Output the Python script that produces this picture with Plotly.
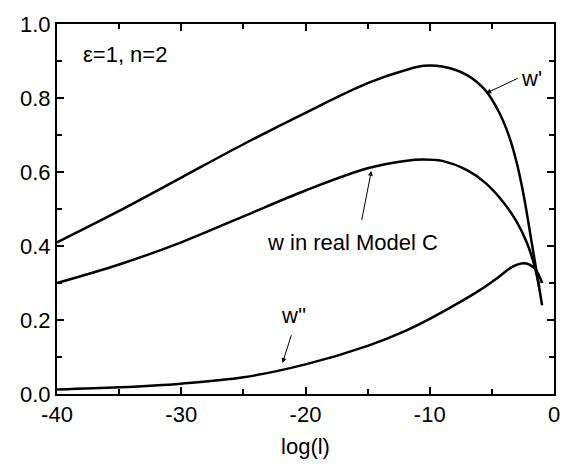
import plotly.graph_objects as go

# w' (upper curve)
wp_x = [-40, -35, -30, -25, -20, -15, -12, -10.5, -9, -7, -5.5, -4.4, -3.6, -3.0, -2.4, -1.8, -1.3, -0.96]
wp_y = [0.41, 0.495, 0.585, 0.675, 0.76, 0.84, 0.875, 0.887, 0.885, 0.862, 0.82, 0.76, 0.695, 0.625, 0.53, 0.41, 0.31, 0.24]

# w in real Model C (middle curve)
w_x = [-40, -35, -30, -25, -20, -15, -12, -10.5, -9, -7, -5.5, -4, -3, -2.2, -1.6, -1.2]
w_y = [0.30, 0.35, 0.41, 0.48, 0.55, 0.61, 0.63, 0.634, 0.63, 0.605, 0.57, 0.515, 0.465, 0.41, 0.35, 0.29]

# w'' (lower curve)
wpp_x = [-40, -35, -30, -25, -20, -15, -12, -10, -8, -6, -4.5, -3.4, -2.6, -2.0, -1.45, -0.96]
wpp_y = [0.012, 0.018, 0.028, 0.045, 0.08, 0.13, 0.17, 0.203, 0.24, 0.28, 0.315, 0.343, 0.353, 0.35, 0.335, 0.30]

x_ticks = [-40, -30, -20, -10, 0]
y_ticks = [0.0, 0.2, 0.4, 0.6, 0.8, 1.0]

FONT = "Arial, Liberation Sans, sans-serif"
line = dict(color="black", width=2.5, shape="spline", smoothing=1.0)

fig = go.Figure()
for xs, ys, name in [(wp_x, wp_y, "w'"), (w_x, w_y, "w"), (wpp_x, wpp_y, "w''")]:
    fig.add_trace(go.Scatter(x=xs, y=ys, mode="lines", line=line, name=name, showlegend=False))

axis_common = dict(
    showline=True, linecolor="black", linewidth=2, mirror="ticks",
    ticks="inside", ticklen=7, tickwidth=2, tickcolor="black",
    showgrid=False, zeroline=False,
    tickfont=dict(family=FONT, size=22, color="black"),
)

fig.update_xaxes(range=[-40, 0], tickvals=x_ticks, ticktext=[str(v) for v in x_ticks],
                 minor=dict(dtick=5, ticks="inside", ticklen=5, tickwidth=2, tickcolor="black", tick0=0),
                 title=dict(text="log(l)", font=dict(family=FONT, size=22, color="black"), standoff=12),
                 **axis_common)
fig.update_yaxes(range=[0, 1], tickvals=y_ticks, ticktext=[f"{v:.1f}" for v in y_ticks],
                 minor=dict(dtick=0.1, ticks="inside", ticklen=5, tickwidth=2, tickcolor="black", tick0=0),
                 **axis_common)

ann_font = dict(family=FONT, size=22, color="black")
fig.add_annotation(x=-34.5, y=0.918, text="ε=1, n=2", showarrow=False, font=ann_font, xanchor="center")
fig.add_annotation(x=-1.85, y=0.853, text="w'", showarrow=False, font=ann_font)
fig.add_annotation(x=-5.46, y=0.813, ax=-2.8, ay=0.855, xref="x", yref="y", axref="x", ayref="y",
                   text="", showarrow=True, arrowhead=2, arrowsize=1, arrowwidth=1, arrowcolor="black")
fig.add_annotation(x=-16.2, y=0.41, text="w in real Model C", showarrow=False, font=ann_font)
fig.add_annotation(x=-14.7, y=0.603, ax=-15.5, ay=0.466, xref="x", yref="y", axref="x", ayref="y",
                   text="", showarrow=True, arrowhead=2, arrowsize=1, arrowwidth=1, arrowcolor="black")
fig.add_annotation(x=-21.0, y=0.213, text="w''", showarrow=False, font=ann_font)
fig.add_annotation(x=-21.85, y=0.084, ax=-21.1, ay=0.163, xref="x", yref="y", axref="x", ayref="y",
                   text="", showarrow=True, arrowhead=2, arrowsize=1, arrowwidth=1, arrowcolor="black")

fig.update_layout(
    width=572, height=472,
    margin=dict(l=57, r=17, t=14, b=78),
    paper_bgcolor="white", plot_bgcolor="white",
    font=dict(family=FONT, color="black"),
)

fig.write_html("out.html")
